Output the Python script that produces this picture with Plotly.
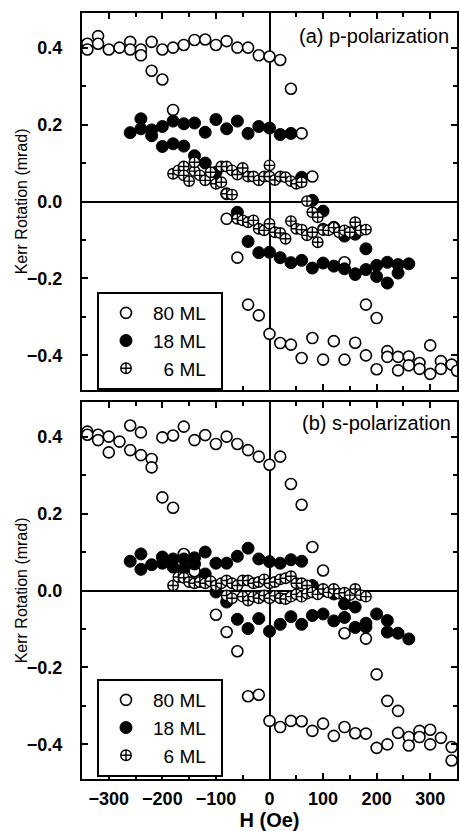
import plotly.graph_objects as go

# ---------------- data: panel (a) p-polarization ----------------
h80_a = [-340, -340, -320, -320, -300, -280, -260, -260, -240, -240, -220, -220, -200, -200, -180, -180,
         -160, -140, -120, -100, -80, -60, -40, -20, 0, 20, 40, 60, 80,
         -80, -60, -40, -20, 0, 20, 40, 60, 80, 100, 120, 140, 140, 160, 160, 180, 180, 200, 200,
         220, 220, 240, 240, 260, 260, 280, 280, 300, 300, 320, 320, 340, 350]
k80_a = [0.41, 0.395, 0.43, 0.41, 0.395, 0.40, 0.415, 0.395, 0.395, 0.38, 0.415, 0.34, 0.395, 0.317, 0.40, 0.238,
         0.407, 0.42, 0.421, 0.407, 0.417, 0.40, 0.40, 0.38, 0.377, 0.368, 0.293, 0.177, 0.065,
         -0.045, -0.146, -0.268, -0.296, -0.344, -0.368, -0.372, -0.407, -0.355, -0.411, -0.363, -0.411, -0.158,
         -0.367, -0.19, -0.268, -0.40, -0.303, -0.436, -0.389, -0.404, -0.404, -0.439, -0.403, -0.426,
         -0.42, -0.435, -0.374, -0.448, -0.415, -0.435, -0.424, -0.44]

h18_a = [-260, -240, -240, -220, -220, -200, -180, -160, -140, -120, -100, -80, -60, -40, -20, 0, 20, 40,
         -200, -180, -160, -140, -120, -100, -80, -60, -40,
         60, 80, 100, 120, 140, 160, 180,
         -20, 0, 20, 40, 60, 80, 100, 120, 140, 160, 180, 200, 200, 220, 220, 240, 240, 260]
k18_a = [0.179, 0.215, 0.189, 0.186, 0.171, 0.195, 0.209, 0.202, 0.204, 0.18, 0.213, 0.189, 0.209, 0.177, 0.195,
         0.191, 0.174, 0.177,
         0.143, 0.150, 0.144, 0.119, 0.10, 0.076, 0.02, -0.028, -0.104,
         0.063, 0.003, -0.025, -0.067, -0.09, -0.085, -0.123,
         -0.133, -0.132, -0.146, -0.159, -0.153, -0.173, -0.160, -0.168, -0.175, -0.188, -0.177, -0.166, -0.195,
         -0.158, -0.212, -0.164, -0.186, -0.162]

h6_a = [-180, -170, -160, -160, -150, -140, -140, -130, -120, -110, -100, -90, -90, -80, -70, -60, -50, -40,
        -30, -20, -10, 0, 0, 10, 20, 30, 40, 50, 60,
        -80, -70, 70, 80, 90, 100,
        -60, -50, -40, -30, -20, -10, 0, 10, 20, 30, 40, 50, 60, 70, 80, 90, 100, 110, 120, 130, 140, 150,
        160, 170, 180]
k6_a = [0.072, 0.081, 0.091, 0.068, 0.053, 0.079, 0.102, 0.068, 0.055, 0.076, 0.046, 0.091, 0.05, 0.091, 0.081,
        0.070, 0.087, 0.065, 0.065, 0.055, 0.065, 0.094, 0.065, 0.056, 0.065, 0.063, 0.053, 0.046, 0.05,
        0.02, 0.018, 0.001, -0.028, -0.041, -0.071,
        -0.045, -0.049, -0.054, -0.049, -0.071, -0.075, -0.058, -0.08, -0.082, -0.097, -0.051, -0.071, -0.073,
        -0.088, -0.08, -0.106, -0.074, -0.075, -0.068, -0.08, -0.075, -0.08, -0.054, -0.075, -0.073]

# ---------------- data: panel (b) s-polarization ----------------
h80_b = [-340, -340, -320, -320, -300, -300, -280, -260, -260, -240, -240, -220, -220, -200, -200, -180, -180,
         -160, -140, -120, -100, -80, -60, -40, -20, 0, 20, 40, 60, 80, 100,
         -160, -140,
         -100, -80, -60, -40, -20, 0, 20, 40, 60, 80, 100, 120, 140, 140, 160, 180, 180, 200, 200, 220, 220,
         240, 240, 260, 260, 280, 280, 300, 300, 320, 340, 340]
k80_b = [0.413, 0.405, 0.405, 0.391, 0.40, 0.359, 0.387, 0.429, 0.365, 0.411, 0.352, 0.342, 0.32, 0.398, 0.242,
         0.403, 0.215, 0.426, 0.391, 0.404, 0.381, 0.40, 0.381, 0.365, 0.348, 0.327, 0.348, 0.277, 0.223, 0.113,
         0.052,
         0.095, 0.05,
         -0.063, -0.108, -0.158, -0.275, -0.271, -0.339, -0.355, -0.339, -0.340, -0.365, -0.346, -0.378, -0.355,
         -0.111, -0.371, -0.372, -0.125, -0.409, -0.218, -0.40, -0.287, -0.313, -0.37, -0.381, -0.403, -0.365,
         -0.381, -0.362, -0.40, -0.383, -0.407, -0.442]

h18_b = [-260, -240, -240, -220, -200, -200, -180, -180, -160, -160, -140, -140, -120, -120, -100, -80, -60, -40,
         -20, 0, 20, 40, 60,
         -100, -80, -60, -40, -20, 0, 20, 40, 60, 80, 100, 120, 140, 140, 160, 160, 180, 180, 200, 220, 220,
         240, 260,
         80, 100, 120]
k18_b = [0.076, 0.095, 0.055, 0.067, 0.087, 0.071, 0.082, 0.061, 0.082, 0.056, 0.085, 0.069, 0.10, 0.043, 0.071,
         0.071, 0.089, 0.11, 0.082, 0.075, 0.071, 0.08, 0.076,
         -0.004, -0.03, -0.075, -0.099, -0.073, -0.106, -0.088, -0.068, -0.088, -0.065, -0.061, -0.079, -0.07,
         -0.035, -0.043, -0.096, -0.085, -0.095, -0.061, -0.078, -0.108, -0.111, -0.126,
         0.013, 0.0, -0.009]

h6_b = [-180, -170, -160, -150, -140, -130, -120, -110, -100, -90, -80, -70, -60, -50, -40, -30, -20, -10, 0,
        10, 20, 30, 40, 50, 60, 70,
        -80, -70, -50, -40, -30, -20, -10, 0, 10, 20, 30, 40, 50, 60, 70, 80, 90, 100, 110, 120, 130, 140,
        150, 160, 170, 180]
k6_b = [0.013, 0.035, 0.033, 0.022, 0.019, 0.022, 0.019, 0.024, 0.013, 0.019, 0.026, 0.019, 0.013, 0.026, 0.026,
        0.019, 0.022, 0.029, 0.019, 0.022, 0.029, 0.032, 0.037, 0.019, 0.019, 0.013,
        -0.013, -0.02, -0.016, -0.026, -0.016, -0.02, -0.013, -0.02, -0.014, -0.02, -0.022, -0.016, -0.01,
        -0.016, -0.008, -0.005, -0.01, 0.004, -0.005, 0.004, -0.008, -0.006, -0.012, 0.004, -0.012, -0.016]

series_names = ["80 ML\u2002", "18 ML\u2002", "\u20076 ML\u2002"]
panel_labels = ["(a) p-polarization", "(b) s-polarization"]
y_title = "Kerr Rotation (mrad)"
x_title = "H (Oe)"

FONT = "Liberation Sans, Arial, sans-serif"
styles = [
    dict(symbol="circle", size=11, color="white", line=dict(color="black", width=1.6)),
    dict(symbol="circle", size=12, color="black", line=dict(color="black", width=1)),
    dict(symbol="circle-cross", size=10.5, color="white", line=dict(color="black", width=1.4)),
]

fig = go.Figure()
panels = [
    ("x", "y", "legend", [(h80_a, k80_a), (h18_a, k18_a), (h6_a, k6_a)]),
    ("x2", "y2", "legend2", [(h80_b, k80_b), (h18_b, k18_b), (h6_b, k6_b)]),
]
for xa, ya, lg, data in panels:
    for (hx, ky), name, st in zip(data, series_names, styles):
        fig.add_trace(go.Scatter(x=hx, y=ky, mode="markers", name=name, marker=st,
                                 xaxis=xa, yaxis=ya, legend=lg, showlegend=True))

ax_common = dict(showline=True, linecolor="black", linewidth=2, mirror="ticks",
                 ticks="inside", ticklen=6, tickwidth=2, tickcolor="black",
                 showgrid=False, zeroline=True, zerolinecolor="black", zerolinewidth=2)
xax = dict(ax_common, range=[-350, 350], tick0=0, dtick=100,
           minor=dict(dtick=50, ticks="inside", ticklen=4, tickwidth=1.5, tickcolor="black", showgrid=False))
yax = dict(ax_common, range=[-0.49, 0.49], tick0=0, dtick=0.2, tickformat=".1f",
           minor=dict(dtick=0.1, ticks="inside", ticklen=4, tickwidth=1.5, tickcolor="black", showgrid=False),
           tickfont=dict(family=FONT, size=18, color="black", weight="bold"), ticklabelstandoff=14)

top_dom = [(779 - 390) / 766, 1.0]
bot_dom = [0.0, (779 - 402) / 766]

legend_common = dict(x=0.04, xanchor="left", yanchor="top", bgcolor="white",
                     bordercolor="black", borderwidth=2, font=dict(family=FONT, size=19, color="black"),
                     itemwidth=44, tracegroupgap=0)

ann_common = dict(xref="paper", yref="paper", showarrow=False)
annotations = [
    dict(ann_common, text=panel_labels[0], x=(453 - 82) / 377, y=(779 - 36) / 766,
         xanchor="right", yanchor="middle", font=dict(family=FONT, size=20, color="black")),
    dict(ann_common, text=panel_labels[1], x=(455 - 82) / 377, y=(779 - 423) / 766,
         xanchor="right", yanchor="middle", font=dict(family=FONT, size=20, color="black")),
    dict(ann_common, text=y_title, textangle=-90, x=(21 - 82) / 377, y=(779 - 201) / 766,
         xanchor="center", yanchor="middle", font=dict(family=FONT, size=16, color="black")),
    dict(ann_common, text=y_title, textangle=-90, x=(21 - 82) / 377, y=(779 - 590) / 766,
         xanchor="center", yanchor="middle", font=dict(family=FONT, size=16, color="black")),
]

fig.update_layout(
    width=460, height=831,
    margin=dict(l=82, r=1, t=13, b=52),
    paper_bgcolor="white", plot_bgcolor="white",
    font=dict(family=FONT, color="black"),
    xaxis=dict(xax, domain=[0, 1], anchor="y", showticklabels=False),
    yaxis=dict(yax, domain=top_dom, anchor="x"),
    xaxis2=dict(xax, domain=[0, 1], anchor="y2", showticklabels=True,
                tickfont=dict(family=FONT, size=18, color="black", weight="bold"), ticklabelstandoff=2,
                title=dict(text=x_title, font=dict(family=FONT, size=20, color="black", weight="bold"),
                           standoff=7)),
    yaxis2=dict(yax, domain=bot_dom, anchor="x2"),
    legend=dict(legend_common, y=(779 - 292) / 766),
    legend2=dict(legend_common, y=(779 - 679) / 766),
    annotations=annotations,
)

fig.write_html("out.html", config={"displayModeBar": False},
               post_script="document.body.style.margin='0';document.body.style.padding='0';"
                           "document.body.style.overflow='hidden';")
